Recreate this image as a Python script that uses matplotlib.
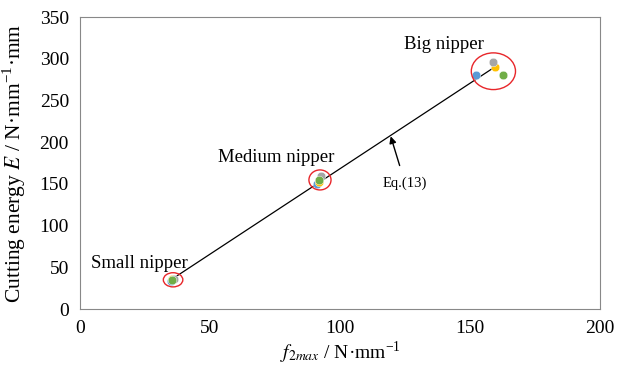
import numpy as np
import matplotlib
matplotlib.use('Agg')
import matplotlib.pyplot as plt
from matplotlib.patches import Ellipse

plt.rcParams['font.family'] = ['Liberation Serif', 'DejaVu Serif']
plt.rcParams['mathtext.fontset'] = 'stix'

# measured points (f2max, E) for each nipper
small_x = [35.0, 35.5, 36.0, 35.2]
small_y = [34.0, 35.5, 36.0, 35.0]
medium_x = [91.0, 92.0, 92.5, 91.8]
medium_y = [150.0, 152.0, 160.0, 155.0]
big_x = [152.3, 159.6, 158.8, 162.7]
big_y = [281.0, 290.0, 296.0, 280.0]
colors = ['#5b9bd5', '#ffc000', '#a5a5a5', '#70ad47']

# Eq.(13) line
eq_x = [35, 159]
eq_y = [35, 289]

fig = plt.figure(figsize=(6.27, 3.70), dpi=100)
ax = fig.add_axes([80/627, 1-309/370, 520/627, 292/370])

ax.plot(eq_x, eq_y, color='black', lw=0.9, zorder=2)

for xs, ys in [(small_x, small_y), (medium_x, medium_y), (big_x, big_y)]:
    for i in range(4):
        ax.scatter(xs[i], ys[i], s=38, color=colors[i], edgecolor='white',
                   linewidth=0.3, zorder=3)

# red circles round each group
ax.add_patch(Ellipse((35.8, 35.0), 7.5, 17, fill=False, ec='#e8262a', lw=1.0, zorder=4))
ax.add_patch(Ellipse((92.3, 154.7), 8.5, 24, fill=False, ec='#e8262a', lw=1.0, zorder=4))
ax.add_patch(Ellipse((159.0, 285.0), 17, 44, fill=False, ec='#e8262a', lw=1.0, zorder=4))

ax.text(23, 54, 'Small nipper', fontsize=13.5, ha='center', va='center')
ax.text(75.5, 181, 'Medium nipper', fontsize=13.5, ha='center', va='center')
ax.text(140, 317, 'Big nipper', fontsize=13.5, ha='center', va='center')

ax.annotate('Eq.(13)', xy=(119.5, 207), xytext=(125, 151), fontsize=10.5,
            ha='center', va='center',
            arrowprops=dict(arrowstyle='-|>', color='black', lw=1.0,
                            mutation_scale=10, shrinkA=6, shrinkB=0))

ax.set_xlim(0, 200)
ax.set_ylim(0, 350)
ax.set_xticks([0, 50, 100, 150, 200])
ax.set_yticks(np.arange(0, 351, 50))
ax.tick_params(length=0, labelsize=14, pad=8)
for sp in ax.spines.values():
    sp.set_color('#888888')
    sp.set_linewidth(0.8)

ax.set_xlabel(r'$f_{2max}$ / N·mm$^{\mathregular{-1}}$', fontsize=14, labelpad=2)
ax.set_ylabel(r'Cutting energy $E$ / N·mm$^{\mathregular{-1}}$·mm', fontsize=15.5, labelpad=8)

fig.savefig('out.png', dpi=100)
